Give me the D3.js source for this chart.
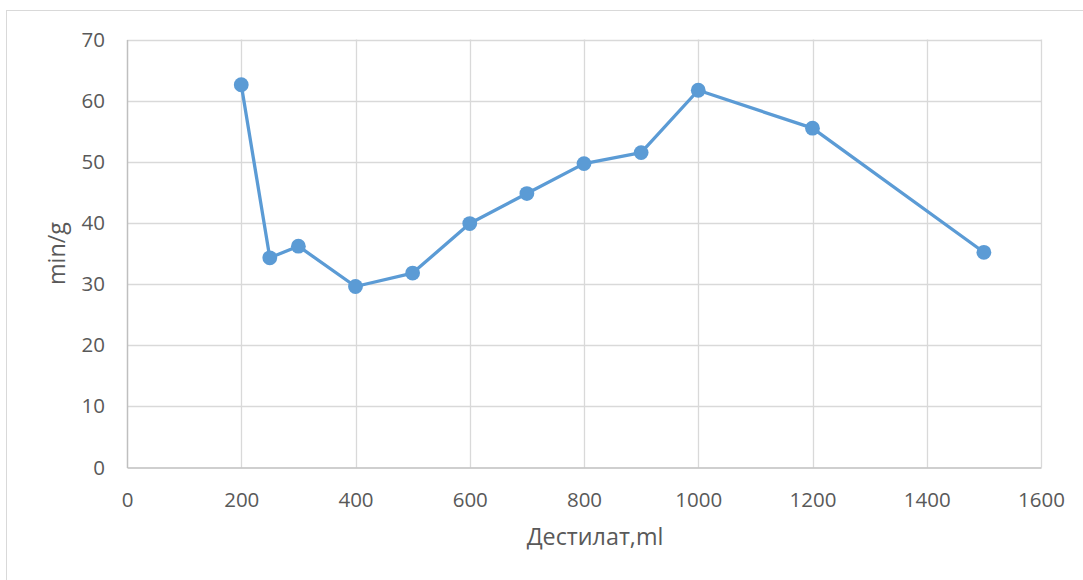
<!DOCTYPE html>
<html><head><meta charset="utf-8">
<script src="https://cdn.jsdelivr.net/npm/d3@7"></script>
<style>body{margin:0;background:#fff;} svg{display:block;}</style>
</head><body><svg id="c" width="1083" height="580"></svg>
<script>
const xValues = [200, 250, 300, 400, 500, 600, 700, 800, 900, 1000, 1200, 1500];
const yValues = [62.6, 34.3, 36.2, 29.6, 31.8, 39.9, 44.8, 49.7, 51.5, 61.7, 55.5, 35.2];
const xTicks = [0, 200, 400, 600, 800, 1000, 1200, 1400, 1600];
const yTicks = [0, 10, 20, 30, 40, 50, 60, 70];
const xTitle = "Дестилат,ml";
const yTitle = "min/g";

const svg = d3.select("#c");
const font = "'Open Sans', 'Liberation Sans', sans-serif";
const L = 127, R = 1041, T = 39.5, B = 467.5;
const x = d3.scaleLinear().domain([0, 1600]).range([L, R]);
const y = d3.scaleLinear().domain([0, 70]).range([B, T]);

svg.append("rect").attr("x", 6.5).attr("y", 10.5).attr("width", 1090).attr("height", 600)
  .attr("fill", "#fff").attr("stroke", "#d9d9d9").attr("stroke-width", 1);

// grid
svg.append("g").selectAll("line").data(yTicks.filter(d => d > 0)).join("line")
  .attr("x1", L).attr("x2", R).attr("y1", d => Math.round(y(d)) + 0.5).attr("y2", d => Math.round(y(d)) + 0.5)
  .attr("stroke", "#d9d9d9").attr("stroke-width", 1.3);
svg.append("g").selectAll("line").data(xTicks.filter(d => d > 0)).join("line")
  .attr("y1", T).attr("y2", B).attr("x1", d => Math.round(x(d)) + 0.5).attr("x2", d => Math.round(x(d)) + 0.5)
  .attr("stroke", "#d9d9d9").attr("stroke-width", 1.3);

// axes
const xAxis = svg.append("g").attr("transform", `translate(0,${B})`)
  .call(d3.axisBottom(x).tickValues(xTicks).tickSize(0).tickPadding(24).tickFormat(d3.format("d")));
const yAxis = svg.append("g").attr("transform", `translate(${L},0)`)
  .call(d3.axisLeft(y).tickValues(yTicks).tickSize(0).tickPadding(22).tickFormat(d3.format("d")));
[xAxis, yAxis].forEach(a => {
  a.select(".domain").attr("stroke", "#bfbfbf").attr("stroke-width", 1.5);
  a.selectAll("text").attr("fill", "#595959").style("font-family", font).style("font-size", "20.5px");
});
xAxis.selectAll("text").attr("dy", null).attr("y", 0).attr("transform", "translate(0,39)");

// titles
svg.append("text").attr("x", 595).attr("y", 545).attr("text-anchor", "middle")
  .attr("fill", "#595959").style("font-family", font).style("font-size", "23.3px").text(xTitle);
svg.append("text").attr("transform", "translate(65,253.5) rotate(-90)").attr("text-anchor", "middle")
  .attr("fill", "#595959").style("font-family", font).style("font-size", "23.3px").text(yTitle);

// series
const pts = xValues.map((v, i) => [v, yValues[i]]);
svg.append("path").datum(pts)
  .attr("d", d3.line().x(d => x(d[0])).y(d => y(d[1])))
  .attr("fill", "none").attr("stroke", "#5b9bd5").attr("stroke-width", 3.3).attr("stroke-linejoin", "round");
svg.append("g").selectAll("circle").data(pts).join("circle")
  .attr("cx", d => x(d[0])).attr("cy", d => y(d[1])).attr("r", 7.4).attr("fill", "#5b9bd5");
</script></body></html>
